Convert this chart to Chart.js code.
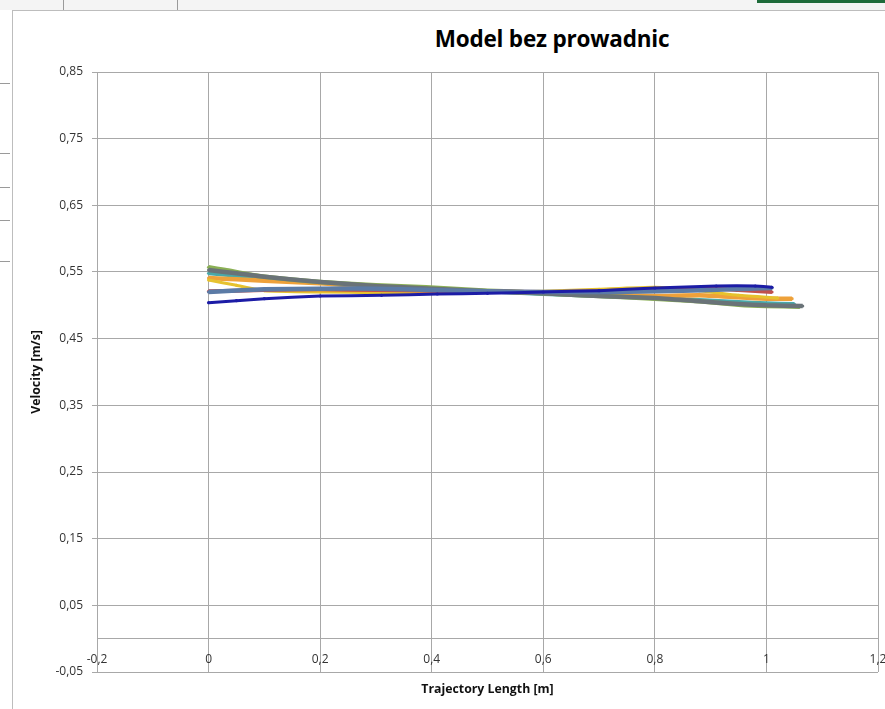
<!DOCTYPE html>
<html>
<head>
<meta charset="utf-8">
<script src="https://cdn.jsdelivr.net/npm/chart.js@4"></script>
<style>
  html, body { margin: 0; padding: 0; background: #fff; }
  #wrap { position: relative; width: 885px; height: 709px; overflow: hidden; background: #fff; }
  .topstrip { position: absolute; left: 0; top: 0; width: 885px; height: 10px; background: #f4f4f4; }
  .vline { position: absolute; top: 0; width: 1px; height: 10px; background: #9a9a9a; }
  .hline { position: absolute; left: 0; width: 10px; height: 1px; background: #9a9a9a; }
  .box { position: absolute; left: 12px; top: 10px; width: 880px; height: 705px; border: 1px solid #bdbdbd; box-sizing: border-box; }
  .green { position: absolute; left: 757px; top: 0; width: 128px; height: 3px; background: #1e6b3a; }
  #title { position: absolute; top: 23px; left: 352px; width: 400px; text-align: center;
           font: bold 22.5px "Open Sans", sans-serif; color: #000; letter-spacing: -0.2px; }
  canvas { position: absolute; left: 0; top: 0; }
</style>
</head>
<body>
<div id="wrap">
  <div class="topstrip"></div>
  <div class="vline" style="left:63px"></div>
  <div class="vline" style="left:177px"></div>
  <div class="green"></div>
  <div class="hline" style="top:83px"></div>
  <div class="hline" style="top:153px"></div>
  <div class="hline" style="top:187px"></div>
  <div class="hline" style="top:220px"></div>
  <div class="hline" style="top:261px"></div>
  <div class="box"></div>
  <div id="title">Model bez prowadnic</div>
  <canvas id="myChart" width="885" height="709"></canvas>
</div>
<script>
const xTicks = [-0.2, 0, 0.2, 0.4, 0.6, 0.8, 1, 1.2];
const yTicks = [-0.05, 0.05, 0.15, 0.25, 0.35, 0.45, 0.55, 0.65, 0.75, 0.85];

const xBlue   = [0, 0.05, 0.1, 0.2, 0.31, 0.41, 0.5, 0.6, 0.7, 0.8, 0.91, 0.98, 1.01];
const yBlue   = [0.504, 0.507, 0.510, 0.514, 0.515, 0.517, 0.518, 0.520, 0.522, 0.526, 0.529, 0.529, 0.527];

const xRed    = [0, 0.1, 0.2, 0.3, 0.4, 0.5, 0.6, 0.7, 0.8, 0.88, 0.95, 1.01];
const yRed    = [0.521, 0.523, 0.524, 0.523, 0.522, 0.521, 0.520, 0.521, 0.524, 0.526, 0.523, 0.520];

const xSteel  = [0, 0.1, 0.2, 0.3, 0.4, 0.5, 0.6, 0.7, 0.8, 0.9, 0.97, 1.01];
const ySteel  = [0.520, 0.524, 0.525, 0.525, 0.523, 0.521, 0.520, 0.520, 0.521, 0.523, 0.525, 0.526];

const xYellow = [0, 0.05, 0.1, 0.2, 0.3, 0.4, 0.5, 0.6, 0.7, 0.8, 0.88, 0.95, 1.02];
const yYellow = [0.538, 0.530, 0.522, 0.520, 0.519, 0.519, 0.520, 0.521, 0.524, 0.527, 0.522, 0.515, 0.511];

const xOrange = [0, 0.05, 0.1, 0.2, 0.3, 0.4, 0.5, 0.6, 0.7, 0.8, 0.88, 0.95, 1.0, 1.046];
const yOrange = [0.541, 0.539, 0.537, 0.533, 0.528, 0.524, 0.521, 0.519, 0.516, 0.514, 0.515, 0.512, 0.510, 0.510];

const xTeal   = [0, 0.1, 0.2, 0.3, 0.4, 0.5, 0.6, 0.7, 0.8, 0.88, 0.95, 1.0, 1.05];
const yTeal   = [0.548, 0.541, 0.534, 0.528, 0.524, 0.521, 0.517, 0.514, 0.511, 0.508, 0.505, 0.503, 0.502];

const xGreen  = [0, 0.03, 0.09, 0.2, 0.3, 0.39, 0.5, 0.56, 0.6, 0.7, 0.8, 0.88, 0.95, 1.0, 1.06];
const yGreen  = [0.557, 0.553, 0.544, 0.535, 0.530, 0.527, 0.522, 0.520, 0.518, 0.514, 0.510, 0.506, 0.501, 0.499, 0.498];

const xGrey   = [0, 0.05, 0.1, 0.2, 0.3, 0.4, 0.5, 0.6, 0.7, 0.8, 0.88, 0.95, 1.0, 1.065];
const yGrey   = [0.553, 0.548, 0.543, 0.535, 0.529, 0.525, 0.521, 0.518, 0.514, 0.511, 0.506, 0.502, 0.500, 0.499];

function pts(xs, ys) {
  return xs.map((x, i) => ({ x: x, y: ys[i] }));
}
function fmt(v) {
  return String(Number(v.toFixed(2))).replace('.', ',');
}

function series(xs, ys, color, w) {
  return {
    data: pts(xs, ys),
    showLine: true,
    borderColor: color,
    backgroundColor: color,
    pointBackgroundColor: color,
    pointBorderWidth: 0,
    borderWidth: w,
    pointRadius: 1.6,
    tension: 0.15
  };
}

const ctx = document.getElementById('myChart').getContext('2d');
const myChart = new Chart(ctx, {
  type: 'scatter',
  data: {
    datasets: [
      series(xBlue, yBlue, '#1c1ca6', 3),
      series(xSteel, ySteel, '#5b7ba6', 4.5),
      series(xRed, yRed, '#c0504d', 4),
      series(xGrey, yGrey, '#6a7378', 4.5),
      series(xGreen, yGreen, '#8bb055', 4.5),
      series(xYellow, yYellow, '#e6c22e', 3),
      series(xOrange, yOrange, '#eea13a', 4.5),
      series(xTeal, yTeal, '#4aa8a8', 4)
    ]
  },
  options: {
    responsive: false,
    animation: false,
    layout: { padding: { top: 72, right: 0, bottom: 37, left: 0 } },
    plugins: { legend: { display: false }, tooltip: { enabled: false } },
    scales: {
      x: {
        type: 'linear',
        position: { y: 0 },
        min: -0.2,
        max: 1.2,
        afterBuildTicks: function (s) { s.ticks = xTicks.map(v => ({ value: v })); },
        afterFit: function (s) { s.paddingLeft = 0; s.paddingRight = 7; },
        ticks: {
          callback: v => fmt(v),
          maxRotation: 0,
          autoSkip: false,
          padding: 14,
          color: '#333',
          font: { family: 'Open Sans', size: 12 }
        },
        grid: { color: '#a8a8a8', drawTicks: false },
        border: { color: '#a8a8a8' },
        title: {
          display: true,
          text: 'Trajectory Length [m]',
          color: '#111',
          padding: { top: 1 },
          font: { family: 'Open Sans', size: 12.3, weight: 'bold' }
        }
      },
      y: {
        type: 'linear',
        min: -0.05,
        max: 0.85,
        afterBuildTicks: function (s) { s.ticks = yTicks.map(v => ({ value: v })); },
        afterFit: function (s) { s.width = 97; },
        ticks: {
          callback: v => fmt(v),
          padding: 9,
          color: '#333',
          font: { family: 'Open Sans', size: 12 }
        },
        grid: { color: '#a8a8a8', tickLength: 5 },
        border: { color: '#a8a8a8' },
        title: {
          display: true,
          text: 'Velocity [m/s]',
          color: '#111',
          padding: { top: 29 },
          font: { family: 'Open Sans', size: 12.3, weight: 'bold' }
        }
      }
    }
  }
});
</script>
</body>
</html>
